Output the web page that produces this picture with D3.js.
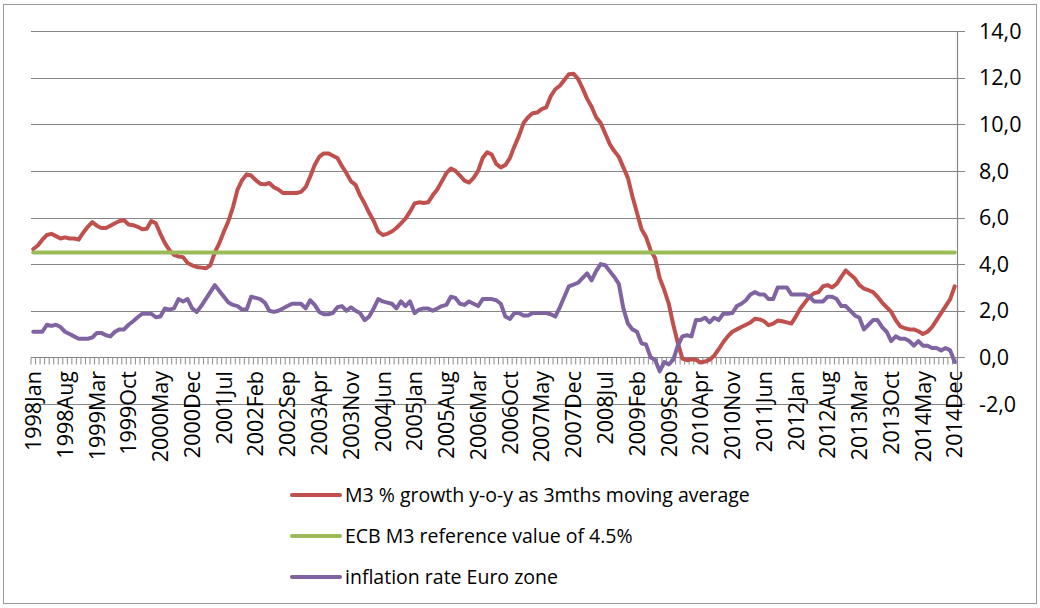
<!DOCTYPE html>
<html>
<head>
<meta charset="utf-8">
<script src="https://cdnjs.cloudflare.com/ajax/libs/d3/7.8.5/d3.min.js"></script>
<style>
  body { margin: 0; background: #ffffff; }
  svg text { font-family: "Open Sans", "Noto Sans", sans-serif; fill: #000000; }
</style>
</head>
<body>
<div id="chart"></div>
<script>

// categories: one per month, 1998Jan .. 2014Dec
var years = d3.range(1998, 2015);
var monthNames = ['Jan', 'Feb', 'Mar', 'Apr', 'May', 'Jun', 'Jul', 'Aug', 'Sep', 'Oct', 'Nov', 'Dec'];
var categories = [];
years.forEach(function(y) {
    monthNames.forEach(function(m) { categories.push(y + m); });
});

// M3 % growth y-o-y as 3mths moving average
var m3Growth = [
    4.65, 4.8, 5.05, 5.25, 5.3, 5.2, 5.1, 5.15, 5.1, 5.1, 5.05, 5.35,       // 1998
    5.6, 5.8, 5.65, 5.55, 5.55, 5.65, 5.75, 5.85, 5.88, 5.7, 5.67, 5.6,     // 1999
    5.5, 5.52, 5.85, 5.75, 5.3, 4.9, 4.6, 4.4, 4.33, 4.3, 4.05, 3.95,       // 2000
    3.88, 3.85, 3.82, 3.95, 4.5, 4.9, 5.4, 5.85, 6.45, 7.2, 7.6, 7.85,      // 2001
    7.8, 7.6, 7.45, 7.42, 7.48, 7.3, 7.2, 7.05, 7.05, 7.05, 7.05, 7.1,      // 2002
    7.3, 7.75, 8.25, 8.6, 8.75, 8.75, 8.65, 8.55, 8.2, 7.9, 7.55, 7.4,      // 2003
    6.95, 6.6, 6.2, 5.85, 5.4, 5.25, 5.3, 5.4, 5.55, 5.75, 5.95, 6.25,      // 2004
    6.6, 6.65, 6.62, 6.65, 6.95, 7.2, 7.55, 7.9, 8.1, 8.0, 7.8, 7.58,       // 2005
    7.5, 7.7, 8.0, 8.55, 8.8, 8.7, 8.3, 8.15, 8.25, 8.55, 9.05, 9.5,        // 2006
    10.05, 10.3, 10.47, 10.5, 10.65, 10.72, 11.2, 11.5, 11.65, 11.9, 12.15, 12.17, // 2007
    11.95, 11.55, 11.1, 10.75, 10.3, 10.05, 9.6, 9.15, 8.85, 8.6, 8.15, 7.7, // 2008
    6.9, 6.2, 5.5, 5.16, 4.6, 4.25, 3.4, 2.9, 2.3, 1.4, 0.62, -0.05,        // 2009
    -0.12, -0.08, -0.1, -0.22, -0.18, -0.1, 0.07, 0.35, 0.65, 0.9, 1.1, 1.2, // 2010
    1.3, 1.4, 1.5, 1.66, 1.63, 1.55, 1.38, 1.45, 1.58, 1.55, 1.5, 1.45,     // 2011
    1.75, 2.1, 2.35, 2.6, 2.75, 2.8, 3.05, 3.1, 3.0, 3.15, 3.45, 3.73,      // 2012
    3.55, 3.38, 3.1, 2.95, 2.88, 2.8, 2.6, 2.35, 2.15, 1.95, 1.6, 1.33,     // 2013
    1.25, 1.2, 1.2, 1.12, 1.0, 1.1, 1.3, 1.6, 1.9, 2.2, 2.5, 3.05           // 2014
];

// ECB M3 reference value
var referenceValue = 4.5;

// inflation rate Euro zone
var inflation = [
    1.1, 1.1, 1.1, 1.4, 1.35, 1.4, 1.3, 1.1, 1.0, 0.9, 0.8, 0.8,           // 1998
    0.8, 0.85, 1.05, 1.05, 0.95, 0.9, 1.1, 1.2, 1.2, 1.4, 1.55, 1.72,      // 1999
    1.87, 1.87, 1.87, 1.72, 1.75, 2.1, 2.05, 2.1, 2.5, 2.4, 2.5, 2.1,      // 2000
    1.95, 2.2, 2.5, 2.8, 3.1, 2.85, 2.6, 2.35, 2.25, 2.2, 2.05, 2.05,      // 2001
    2.6, 2.55, 2.5, 2.35, 2.0, 1.95, 2.0, 2.1, 2.2, 2.3, 2.3, 2.3,         // 2002
    2.1, 2.45, 2.25, 1.95, 1.85, 1.85, 1.9, 2.15, 2.2, 2.0, 2.15, 2.0,     // 2003
    1.9, 1.6, 1.75, 2.1, 2.5, 2.4, 2.35, 2.3, 2.1, 2.4, 2.2, 2.4,          // 2004
    1.9, 2.05, 2.1, 2.1, 2.0, 2.1, 2.2, 2.25, 2.6, 2.55, 2.3, 2.25,        // 2005
    2.4, 2.3, 2.2, 2.5, 2.5, 2.5, 2.45, 2.3, 1.75, 1.65, 1.9, 1.9,         // 2006
    1.8, 1.8, 1.9, 1.9, 1.9, 1.9, 1.85, 1.75, 2.15, 2.6, 3.05, 3.12,       // 2007
    3.2, 3.4, 3.6, 3.3, 3.7, 4.0, 3.95, 3.7, 3.45, 3.15, 2.1, 1.45,        // 2008
    1.2, 1.1, 0.6, 0.55, 0.0, -0.1, -0.6, -0.2, -0.3, -0.1, 0.5, 0.9,      // 2009
    0.95, 0.9, 1.6, 1.6, 1.7, 1.5, 1.7, 1.6, 1.87, 1.87, 1.9, 2.2,         // 2010
    2.3, 2.45, 2.7, 2.8, 2.7, 2.7, 2.5, 2.5, 3.0, 3.0, 3.0, 2.7,           // 2011
    2.7, 2.7, 2.7, 2.6, 2.4, 2.4, 2.4, 2.6, 2.6, 2.5, 2.2, 2.2,            // 2012
    2.0, 1.8, 1.7, 1.2, 1.4, 1.6, 1.6, 1.3, 1.1, 0.7, 0.9, 0.8,            // 2013
    0.8, 0.7, 0.5, 0.7, 0.5, 0.5, 0.4, 0.4, 0.3, 0.4, 0.3, -0.2            // 2014
];

var yTicks = [-2, 0, 2, 4, 6, 8, 10, 12, 14];
var legendLabels = [
    'M3 % growth y-o-y as 3mths moving average',
    'ECB M3 reference value of 4.5%',
    'inflation rate Euro zone'
];
var colors = ['#c0504d', '#9bbb59', '#8064a2'];

var width = 1040;
var height = 608;
var plotLeft = 31;
var plotRight = 957;
var plotTop = 31;
var plotBottom = 404;

var svg = d3.select('#chart')
  .append('svg')
    .attr('width', width)
    .attr('height', height);

// chart area border
svg.append('rect')
    .attr('x', 3.5)
    .attr('y', 4.5)
    .attr('width', 1033)
    .attr('height', 599)
    .attr('fill', '#ffffff')
    .attr('stroke', '#9a9a9a')
    .attr('stroke-width', 1);

var x = d3.scaleBand()
    .domain(d3.range(categories.length))
    .range([plotLeft, plotRight]);
var xc = function(i) { return x(i) + x.bandwidth() / 2; };

var y = d3.scaleLinear()
    .domain([-2, 14])
    .range([plotBottom, plotTop]);

// y grid lines
svg.append('g')
    .selectAll('line.y-grid')
    .data(yTicks)
  .enter()
    .append('line')
    .attr('class', 'y-grid')
    .attr('stroke', '#868686')
    .attr('stroke-width', 1.2)
    .attr('x1', plotLeft)
    .attr('x2', plotRight + 8)
    .attr('y1', function(d) { return Math.round(y(d)) + 0.5; })
    .attr('y2', function(d) { return Math.round(y(d)) + 0.5; });

// right value axis
svg.append('line')
    .attr('stroke', '#868686')
    .attr('stroke-width', 1.2)
    .attr('x1', plotRight + 0.5)
    .attr('x2', plotRight + 0.5)
    .attr('y1', Math.round(y(14)) + 0.5)
    .attr('y2', Math.round(y(-2)) + 0.5);

svg.append('g')
    .selectAll('text.y-label')
    .data(yTicks)
  .enter()
    .append('text')
    .attr('class', 'y-label')
    .attr('font-size', '21.5px')
    .attr('x', 979)
    .attr('y', function(d) { return y(d); })
    .attr('dy', '0.36em')
    .text(function(d) { return d.toFixed(1).replace('.', ','); });

// category axis at zero with a tick at every month boundary
var y0 = Math.round(y(0)) + 0.5;
svg.append('line')
    .attr('stroke', '#868686')
    .attr('stroke-width', 1.2)
    .attr('x1', plotLeft)
    .attr('x2', plotRight)
    .attr('y1', y0)
    .attr('y2', y0);

svg.append('g')
    .selectAll('line.x-tick')
    .data(d3.range(categories.length + 1))
  .enter()
    .append('line')
    .attr('class', 'x-tick')
    .attr('stroke', '#8c8c8c')
    .attr('x1', function(i) { return plotLeft + i * x.step(); })
    .attr('x2', function(i) { return plotLeft + i * x.step(); })
    .attr('y1', y0)
    .attr('y2', y0 + 7);

// every 7th month is labelled
var labelIdx = d3.range(0, categories.length, 7);
svg.append('g')
    .selectAll('text.x-label')
    .data(labelIdx)
  .enter()
    .append('text')
    .attr('class', 'x-label')
    .attr('font-size', '21.5px')
    .style('text-anchor', 'end')
    .attr('dy', '0.36em')
    .attr('transform', function(i) {
        return 'translate(' + xc(i) + ',' + 371 + ') rotate(-90)';
    })
    .text(function(i) { return categories[i]; });

// series
var line = d3.line()
    .x(function(d, i) { return xc(i); })
    .y(function(d) { return y(d); });

var refSeries = categories.map(function() { return referenceValue; });
var series = [m3Growth, refSeries, inflation];

series.forEach(function(s, k) {
    svg.append('path')
        .datum(s)
        .attr('fill', 'none')
        .attr('stroke', colors[k])
        .attr('stroke-width', 4)
        .attr('stroke-linejoin', 'round')
        .attr('stroke-linecap', 'round')
        .attr('d', line);
});

// legend
var legendY = [495, 536, 577];
var legend = svg.append('g');
legend.selectAll('line')
    .data(legendLabels)
  .enter()
    .append('line')
    .attr('stroke', function(d, i) { return colors[i]; })
    .attr('stroke-width', 4)
    .attr('stroke-linecap', 'round')
    .attr('x1', 292)
    .attr('x2', 340)
    .attr('y1', function(d, i) { return legendY[i]; })
    .attr('y2', function(d, i) { return legendY[i]; });

legend.selectAll('text')
    .data(legendLabels)
  .enter()
    .append('text')
    .attr('font-size', '19.5px')
    .attr('x', 345)
    .attr('y', function(d, i) { return legendY[i]; })
    .attr('dy', '0.36em')
    .text(function(d) { return d; });

</script>
</body>
</html>
